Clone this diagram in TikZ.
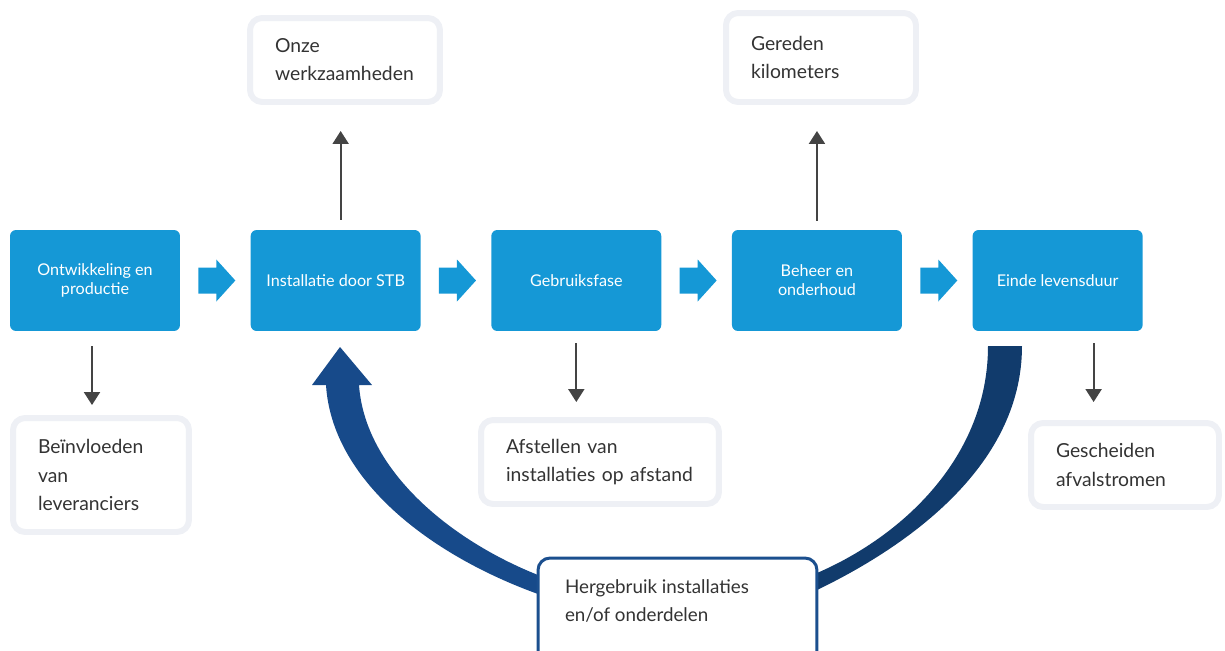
\documentclass[tikz,border=0pt]{standalone}
\usepackage{fontspec}
\setmainfont{Lato}
\usetikzlibrary{arrows.meta, positioning, calc, backgrounds}

\definecolor{stageblue}{HTML}{1598D6}
\definecolor{notegrey}{HTML}{EEF0F5}
\definecolor{textgrey}{HTML}{333333}
\definecolor{arrowgrey}{HTML}{444444}
\definecolor{loopblue}{HTML}{174A8A}
\definecolor{loopdark}{HTML}{113B6C}
\definecolor{reuseblue}{HTML}{1B4F8E}

\tikzset{
  stage/.style={fill=stageblue, rounded corners=0.12cm, minimum width=3.4cm,
    minimum height=2.02cm, text=white, align=center, inner sep=2pt,
    font=\fontsize{9.2}{10.8}\selectfont},
  note/.style={draw=notegrey, line width=3.4pt, fill=white, rounded corners=0.24cm,
    align=left, inner xsep=0.5cm, text=textgrey, font=\fontsize{11}{16}\selectfont},
  reuse/.style={draw=reuseblue, line width=1.7pt, fill=white, rounded corners=0.24cm,
    inner xsep=0.54cm, inner ysep=0.44cm, text=textgrey, font=\fontsize{10.7}{16}\selectfont},
  flow/.style={draw=arrowgrey, line width=1.2pt, -{Triangle[width=0.32cm,length=0.26cm]}},
}

\begin{document}
\begin{tikzpicture}[x=0.02cm, y=-0.02cm]
				\useasboundingbox (0,0) rectangle (1225,650);
				
				% Stages
				\node[stage] (s1) at (95,280.5) {Ontwikkeling en\\productie};
				\node[stage, right=1.4cm of s1] (s2) {Installatie door STB};
				\node[stage, right=1.4cm of s2] (s3) {Gebruiksfase};
				\node[stage, right=1.4cm of s3] (s4) {Beheer en\\onderhoud};
				\node[stage, right=1.4cm of s4] (s5) {Einde levensduur};
				
				% Block arrows between stages
				\foreach \a/\b in {s1/s2, s2/s3, s3/s4, s4/s5}
				\fill[stageblue] ($(\a.east)!0.5!(\b.west)$) ++(-17,-13) -- ++(18,0) -- ++(0,-8)
				-- ++(19,21) -- ++(-19,21) -- ++(0,-8) -- ++(-18,0) -- cycle;
				
				% Notes
				\node[note, text width=2.52cm, minimum height=2.28cm] (n1) at (101,475) {Beïnvloeden\\van\\leveranciers};
				\node[note, text width=2.8cm, minimum height=1.68cm] (n2) at (345,60) {Onze\\werkzaamheden};
				\node[note, text width=3.76cm, minimum height=1.68cm] (n3) at (600,462) {Afstellen van\\installaties op afstand};
				\node[note, text width=2.8cm, minimum height=1.78cm] (n4) at (821,57.5) {Gereden\\kilometers};
				\node[note, text width=2.76cm, minimum height=1.68cm] (n5) at (1125,465) {Gescheiden\\afvalstromen};
				
				% Arrows to notes
				\draw[flow, shorten <=0.3cm, shorten >=0.2cm] ([xshift=-0.06cm]s1.south) -- ([xshift=-0.06cm]s1.south |- n1.north);
				\draw[flow, shorten <=0.2cm, shorten >=0.52cm] ([xshift=0.1cm]s2.north) -- ([xshift=0.1cm]s2.north |- n2.south);
				\draw[flow, shorten <=0.24cm, shorten >=0.3cm] (s3.south) -- (s3.south |- n3.north);
				\draw[flow, shorten <=0.18cm, shorten >=0.52cm] (s4.north) -- (s4.north |- n4.south);
				\draw[flow, shorten <=0.24cm, shorten >=0.36cm] ([xshift=0.72cm]s5.south) -- ([xshift=0.72cm]s5.south |- n5.north);
				
				% Reuse box
				\node[reuse] (h) at (677.5,620) {\parbox[t][1.6cm][t]{4.5cm}{Hergebruik installaties\\en/of onderdelen}};
				
				% Loop back
				\begin{scope}[on background layer]
				\fill[loopblue] (538,594) .. controls (430,555) and (332,480) .. (326,385)
				-- (312,385) -- (340,347) -- (372,385) -- (359,385)
				.. controls (365,470) and (450,540) .. (538,575) -- cycle;
				\fill[loopdark] (1022,346) .. controls (1022,470) and (900,550) .. (817,590)
				-- (817,573) .. controls (905,535) and (988,455) .. (988,346) -- cycle;
				\end{scope}
			\end{tikzpicture}
\end{document}
